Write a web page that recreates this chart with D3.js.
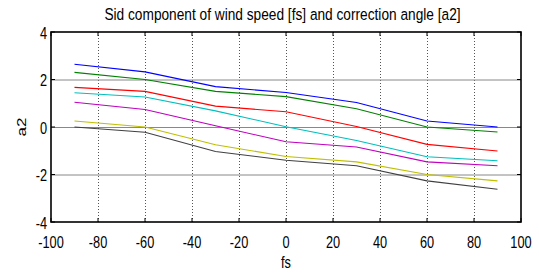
<!DOCTYPE html>
<html>
<head>
<meta charset="utf-8">
<script src="https://cdn.jsdelivr.net/npm/d3@7"></script>
<style>
html,body{margin:0;padding:0;background:#fff;}
svg{display:block;}
text{font-family:"Liberation Sans",Arial,sans-serif;fill:#000;}
</style>
</head>
<body>
<svg id="chart" width="539" height="273"></svg>
<script>
const fsValues = [-90, -60, -30, 0, 30, 60, 90];
const blueSeries    = [2.64, 2.32, 1.70, 1.45, 1.03, 0.25, 0.00];
const greenSeries   = [2.30, 2.00, 1.50, 1.28, 0.77, 0.00, -0.21];
const redSeries     = [1.67, 1.50, 0.88, 0.64, 0.02, -0.73, -1.01];
const cyanSeries    = [1.44, 1.26, 0.68, 0.01, -0.57, -1.25, -1.42];
const magentaSeries = [1.04, 0.74, 0.05, -0.62, -0.84, -1.47, -1.63];
const yellowSeries  = [0.25, 0.00, -0.75, -1.24, -1.47, -2.00, -2.27];
const blackSeries   = [0.00, -0.22, -1.03, -1.40, -1.63, -2.27, -2.62];
const seriesColors = ["#0000ff", "#008000", "#ff0000", "#00bfbf", "#bf00bf", "#bfbf00", "#404040"];
const xTicks = [-100, -80, -60, -40, -20, 0, 20, 40, 60, 80, 100];
const yTicks = [-4, -2, 0, 2, 4];
const titleText = "Sid component of wind speed [fs] and correction angle [a2]";
const xLabel = "fs";
const yLabel = "a2";

const allSeries = [blueSeries, greenSeries, redSeries, cyanSeries, magentaSeries, yellowSeries, blackSeries];

const svg = d3.select("#chart");
const L = 51, R = 521, T = 32, B = 222;
const x = d3.scaleLinear().domain([-100, 100]).range([L, R]);
const y = d3.scaleLinear().domain([-4, 4]).range([B, T]);
const sx = 0.75;

// grid
const g = svg.append("g");
g.selectAll("line.vg").data(xTicks.slice(1, -1)).enter().append("line")
  .attr("x1", d => x(d) + 0.5).attr("x2", d => x(d) + 0.5)
  .attr("y1", T).attr("y2", B)
  .attr("stroke", "#555").attr("stroke-width", 1).attr("stroke-dasharray", "1,2");
g.selectAll("line.hg").data(yTicks.slice(1, -1)).enter().append("line")
  .attr("x1", L).attr("x2", R)
  .attr("y1", d => y(d) + 0.5).attr("y2", d => y(d) + 0.5)
  .attr("stroke", "#888").attr("stroke-width", 1);

// lines
const line = d3.line().x((d, i) => x(fsValues[i])).y(d => y(d));
svg.selectAll("path.s").data(allSeries).enter().append("path")
  .attr("d", d => line(d))
  .attr("fill", "none")
  .attr("stroke", (d, i) => seriesColors[i])
  .attr("stroke-width", 1.1);

// box
svg.append("rect").attr("x", L).attr("y", T).attr("width", R - L).attr("height", B - T)
  .attr("fill", "none").attr("stroke", "#000").attr("stroke-width", 1.6);

// ticks (inside, all sides)
const tl = 4;
xTicks.forEach(t => {
  svg.append("line").attr("x1", x(t)).attr("x2", x(t)).attr("y1", B).attr("y2", B - tl).attr("stroke", "#000");
  svg.append("line").attr("x1", x(t)).attr("x2", x(t)).attr("y1", T).attr("y2", T + tl).attr("stroke", "#000");
  svg.append("text").attr("transform", `translate(${x(t)},${B + 26}) scale(${sx},1)`)
    .attr("text-anchor", "middle").style("font-size", "17px").text(t);
});
yTicks.forEach(t => {
  svg.append("line").attr("x1", L).attr("x2", L + tl).attr("y1", y(t)).attr("y2", y(t)).attr("stroke", "#000");
  svg.append("line").attr("x1", R).attr("x2", R - tl).attr("y1", y(t)).attr("y2", y(t)).attr("stroke", "#000");
  svg.append("text").attr("transform", `translate(${L - 4},${y(t) + 6.5}) scale(${sx},1)`)
    .attr("text-anchor", "end").style("font-size", "17px").text(t);
});

// title & labels
svg.append("text").attr("transform", `translate(${(L + R) / 2 - 3.5},20) scale(0.83,1)`)
  .attr("text-anchor", "middle").style("font-size", "16.5px").text(titleText);
svg.append("text").attr("transform", `translate(${(L + R) / 2},268) scale(${sx},1)`)
  .attr("text-anchor", "middle").style("font-size", "17px").text(xLabel);
svg.append("text").attr("transform", `translate(26,${(T + B) / 2}) rotate(-90) scale(1,${sx})`)
  .attr("text-anchor", "middle").style("font-size", "17px").text(yLabel);
</script>
</body>
</html>
